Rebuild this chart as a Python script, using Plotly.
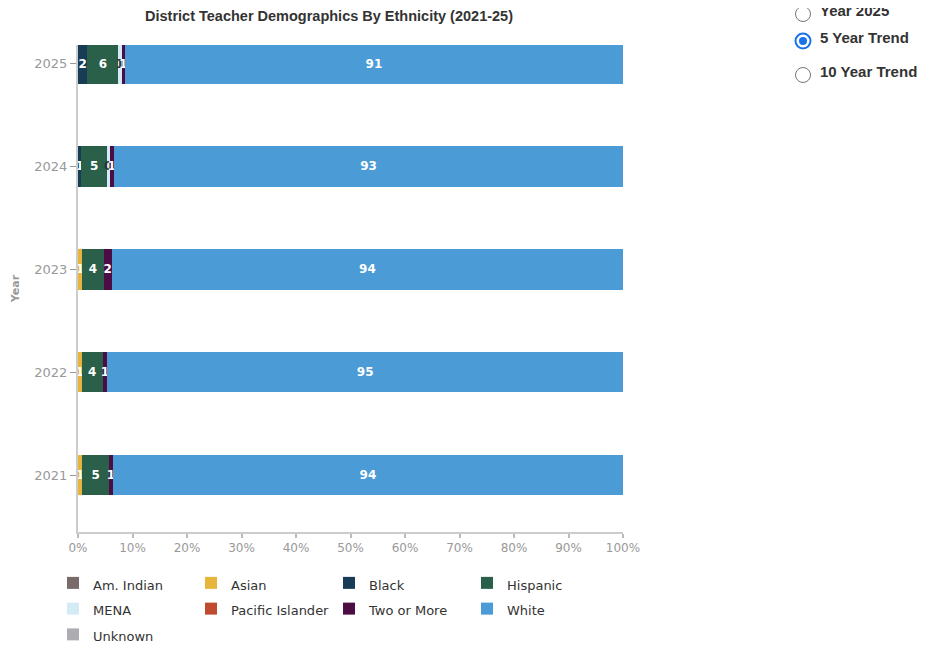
import plotly.graph_objects as go

years = ["2021", "2022", "2023", "2024", "2025"]
am_indian = [0, 0, 0, 0, 0]
asian = [0.8, 0.7, 0.8, 0, 0]
black = [0, 0, 0, 0.6, 1.7]
hispanic = [4.9, 3.8, 3.9, 4.7, 5.7]
mena = [0, 0, 0, 0.5, 0.6]
pacific = [0, 0, 0, 0, 0]
two_more = [0.7, 0.9, 1.5, 0.8, 0.6]
white = [93.6, 94.6, 93.8, 93.4, 91.4]
unknown = [0, 0, 0, 0, 0]

series = [
    ("Am. Indian", am_indian, "#786b6a", "white"),
    ("Asian", asian, "#e8b53c", "white"),
    ("Black", black, "#173d56", "white"),
    ("Hispanic", hispanic, "#2a5f49", "white"),
    ("MENA", mena, "#d4ebf5", "#333333"),
    ("Pacific Islander", pacific, "#c04a2f", "white"),
    ("Two or More", two_more, "#4c0c44", "white"),
    ("White", white, "#4a9bd6", "white"),
    ("Unknown", unknown, "#adacb2", "white"),
]

# page body has an 8px margin: work in screen pixels, then offset
OFF = 8
W, H = 925 - OFF, 650 - 2 * OFF
L, R, T, B = 78, 623, 45, 532  # plot area in screen pixels
pw, ph = R - L, B - T


def px(x):
    return (x - L) / pw


def py(y):
    return (B - y) / ph


fig = go.Figure()
for name, vals, color, tcolor in series:
    fig.add_trace(go.Bar(
        name=name, y=years, x=vals, orientation="h",
        marker=dict(color=color, line=dict(width=0)),
        text=[(f"{v:.0f}" if v > 0 else "") for v in vals],
        textposition="inside", insidetextanchor="middle",
        constraintext="none", textangle=0,
        textfont=dict(color=tcolor, size=12, family="DejaVu Sans", weight="bold"),
        hoverinfo="x+name",
    ))
    fig.data[-1].name = f'<span style="font-size:13px">{name}</span>'

fig.update_layout(
    width=W, height=H,
    margin=dict(l=L - OFF, r=W - (R - OFF), t=T - OFF, b=H - (B - OFF), autoexpand=False),
    barmode="stack", bargap=0.61,
    plot_bgcolor="white", paper_bgcolor="white",
    uniformtext=dict(minsize=12, mode="show"),
    title=dict(text="<b>District Teacher Demographics By Ethnicity (2021-25)</b>",
               x=(329 - OFF) / W, xanchor="center", xref="container",
               y=1 - (16 - OFF) / H, yanchor="middle", yref="container",
               font=dict(family="Liberation Sans", size=14.5, color="#333333")),
    xaxis=dict(range=[0, 100], dtick=10, ticksuffix="%", showgrid=False,
               zeroline=False, showline=True, linecolor="#cccccc", linewidth=2,
               ticks="outside", ticklen=4, tickcolor="#bbbbbb", tickwidth=2,
               automargin=False,
               tickfont=dict(family="DejaVu Sans", size=12, color="#999999")),
    yaxis=dict(categoryorder="array", categoryarray=years, range=[-0.55, 4.18],
               showgrid=False, zeroline=False, showline=True, linecolor="#cccccc",
               linewidth=2, ticks="outside", ticklen=6, tickcolor="#999999",
               automargin=False,
               tickfont=dict(family="DejaVu Sans", size=13, color="#999999"),
               title=dict(text="<b>Year</b>", standoff=12,
                          font=dict(family="DejaVu Sans", size=11, color="#999999"))),
    legend=dict(orientation="h", x=px(53), xanchor="left", y=py(565), yanchor="top",
                entrywidth=93, entrywidthmode="pixels", traceorder="normal",
                font=dict(family="DejaVu Sans", size=17.5, color="#333333"),
                itemsizing="constant"),
    showlegend=True,
)

# radio buttons (screen pixel positions)
radios = [("Year 2025", 14, False), ("5 Year Trend", 41, True), ("10 Year Trend", 75, False)]
cx = 803
for label, cy, sel in radios:
    r = 7.5
    fig.add_shape(type="circle", xref="paper", yref="paper",
                  x0=px(cx - r), x1=px(cx + r), y0=py(cy + r), y1=py(cy - r),
                  fillcolor="white", line=dict(color="#1a73e8" if sel else "#767676",
                                               width=2 if sel else 1))
    if sel:
        r2 = 4
        fig.add_shape(type="circle", xref="paper", yref="paper",
                      x0=px(cx - r2), x1=px(cx + r2), y0=py(cy + r2), y1=py(cy - r2),
                      fillcolor="#1a73e8", line=dict(width=0))
    fig.add_annotation(text=f"<b>{label}</b>", xref="paper", yref="paper",
                       x=px(818), y=py(cy - 3), xanchor="left", yanchor="middle",
                       showarrow=False,
                       font=dict(family="Liberation Sans", size=15, color="#333333"))

fig.write_html("out.html")
